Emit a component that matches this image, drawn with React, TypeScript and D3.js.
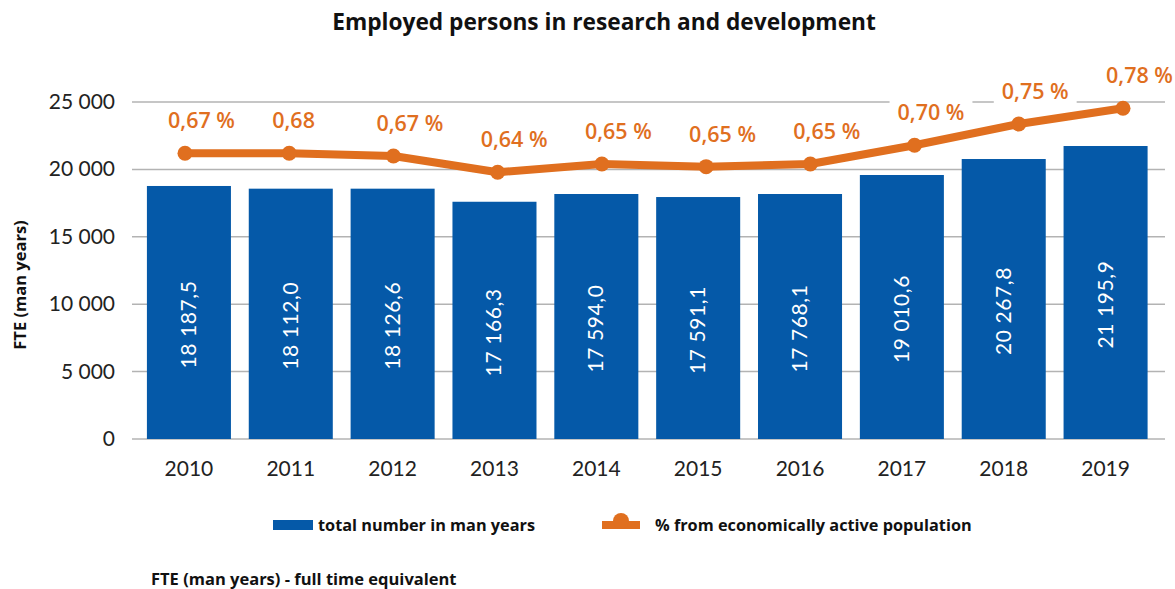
import React, { useEffect, useRef } from "react";
import * as d3 from "d3";

const years = ["2010", "2011", "2012", "2013", "2014", "2015", "2016", "2017", "2018", "2019"];
// bar heights as drawn in the picture
const barValues = [18770, 18570, 18570, 17600, 18175, 17950, 18175, 19585, 20770, 21735];
// value labels printed in the bars
const barLabels = ["18 187,5", "18 112,0", "18 126,6", "17 166,3", "17 594,0", "17 591,1", "17 768,1", "19 010,6", "20 267,8", "21 195,9"];
// line values (% of economically active population) as drawn
const shareValues = [0.6816, 0.6816, 0.6757, 0.64, 0.6582, 0.6523, 0.6582, 0.6991, 0.7457, 0.78];
const shareLabels = ["0,67 %", "0,68", "0,67 %", "0,64 %", "0,65 %", "0,65 %", "0,65 %", "0,70 %", "0,75 %", "0,78 %"];
const yTicks = [0, 5000, 10000, 15000, 20000, 25000];

const BLUE = "#0559A8";
const ORANGE = "#E06F1F";
const GRID = "#B3B3B3";
const FONT = "Lato, 'Open Sans', sans-serif";
const BOLD = "'Open Sans', Lato, sans-serif";

export default function App() {
  const ref = useRef<SVGSVGElement | null>(null);

  useEffect(() => {
    const svg = d3.select(ref.current);
    svg.selectAll("*").remove();

    const x = d3.scaleBand<string>().domain(years).range([138, 1156.5]).paddingInner(0.175).paddingOuter(0.0875);
    const y = d3.scaleLinear().domain([0, 25000]).range([439, 102]);
    const xl = d3.scalePoint<string>().domain(years).range([185, 1123]);
    const y2 = d3.scaleLinear().domain([0.64, 0.78]).range([172.3, 108.3]);

    // title
    svg.append("text").attr("x", 604).attr("y", 30).attr("text-anchor", "middle")
      .attr("font-family", BOLD).attr("font-weight", 700).attr("font-size", 22.7).attr("fill", "#111")
      .text("Employed persons in research and development");

    // gridlines
    svg.append("g").selectAll("line").data(yTicks).join("line")
      .attr("x1", 132).attr("x2", 1165)
      .attr("y1", (d) => y(d)).attr("y2", (d) => y(d))
      .attr("stroke", GRID).attr("stroke-width", 1.5);

    // y tick labels
    svg.append("g").selectAll("text").data(yTicks).join("text")
      .attr("x", 115).attr("y", (d) => y(d) + 7).attr("text-anchor", "end")
      .attr("font-family", FONT).attr("font-size", 21).attr("fill", "#222")
      .text((d) => (d === 0 ? "0" : d3.format(",")(d).replace(",", " ")));

    // y axis title
    svg.append("text").attr("transform", "translate(26,285) rotate(-90)").attr("text-anchor", "middle")
      .attr("font-family", BOLD).attr("font-weight", 700).attr("font-size", 16.5).attr("fill", "#111")
      .text("FTE (man years)");

    // bars
    svg.append("g").selectAll("rect").data(years).join("rect")
      .attr("x", (d) => x(d)!).attr("width", x.bandwidth())
      .attr("y", (d, i) => y(barValues[i])).attr("height", (d, i) => y(0) - y(barValues[i]))
      .attr("fill", BLUE);

    // bar value labels
    svg.append("g").selectAll("text").data(years).join("text")
      .attr("transform", (d, i) => {
        const cx = x(d)! + x.bandwidth() / 2;
        const cy = (y(barValues[i]) + y(0)) / 2 + 12;
        return `translate(${cx + 7},${cy}) rotate(-90)`;
      })
      .attr("text-anchor", "middle")
      .attr("font-family", FONT).attr("font-size", 21).attr("fill", "#fff").attr("letter-spacing", 0.6)
      .text((d, i) => barLabels[i]);

    // x labels
    svg.append("g").selectAll("text").data(years).join("text")
      .attr("x", (d) => x(d)! + x.bandwidth() / 2).attr("y", 476).attr("text-anchor", "middle")
      .attr("font-family", FONT).attr("font-size", 21).attr("fill", "#222")
      .text((d) => d);

    // percent labels with white backgrounds
    const lblG = svg.append("g");
    const texts = lblG.selectAll("text").data(years).join("text")
      .attr("x", (d) => xl(d)! - 17).attr("y", (d, i) => y2(shareValues[i]) - 25)
      .attr("font-family", BOLD).attr("font-weight", 600).attr("font-size", 21.5).attr("fill", ORANGE)
      .text((d, i) => shareLabels[i]);
    texts.each(function () {
      const bb = (this as SVGTextElement).getBBox();
      lblG.insert("rect", "text")
        .attr("x", bb.x - 8).attr("y", bb.y + 2).attr("width", bb.width + 16).attr("height", bb.height - 2)
        .attr("fill", "#fff");
    });

    // line
    const line = d3.line<number>().x((d, i) => xl(years[i])!).y((d) => y2(d));
    svg.append("path").datum(shareValues).attr("d", line)
      .attr("fill", "none").attr("stroke", ORANGE).attr("stroke-width", 8).attr("stroke-linejoin", "round");
    svg.append("g").selectAll("circle").data(shareValues).join("circle")
      .attr("cx", (d, i) => xl(years[i])!).attr("cy", (d) => y2(d)).attr("r", 7.5).attr("fill", ORANGE);

    // legend
    const lg = svg.append("g");
    lg.append("rect").attr("x", 273).attr("y", 520).attr("width", 40).attr("height", 10).attr("fill", BLUE);
    lg.append("text").attr("x", 318).attr("y", 531).attr("font-family", BOLD).attr("font-weight", 700)
      .attr("font-size", 16.3).attr("fill", "#111").text("total number in man years");
    lg.append("line").attr("x1", 602).attr("x2", 640).attr("y1", 525).attr("y2", 525)
      .attr("stroke", ORANGE).attr("stroke-width", 8);
    lg.append("circle").attr("cx", 621).attr("cy", 521).attr("r", 8).attr("fill", ORANGE);
    lg.append("text").attr("x", 655).attr("y", 531).attr("font-family", BOLD).attr("font-weight", 700)
      .attr("font-size", 16.3).attr("fill", "#111").text("% from economically active population");

    // footnote
    svg.append("text").attr("x", 151).attr("y", 585).attr("font-family", BOLD).attr("font-weight", 700)
      .attr("font-size", 16.5).attr("fill", "#111").text("FTE (man years) - full time equivalent");
  }, []);

  return (
    <svg ref={ref} width={1175} height={589} style={{ position: "absolute", left: 0, top: 0, background: "#fff" }} />
  );
}
